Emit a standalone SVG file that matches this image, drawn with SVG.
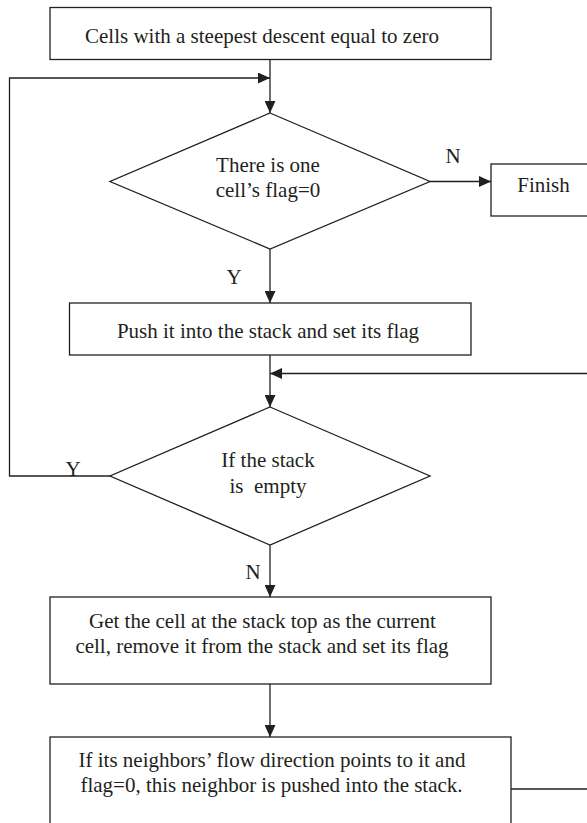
<svg xmlns="http://www.w3.org/2000/svg" width="587" height="823" viewBox="0 0 587 823">
<style>
.n{fill:#fff;stroke:#231f20;stroke-width:1.3}
.c{fill:none;stroke:#231f20;stroke-width:1.3}
text{font-family:"Liberation Serif","Times New Roman",serif;font-size:21px;fill:#231f20;text-anchor:middle}
</style>
<defs>
<marker id="ah" markerWidth="12" markerHeight="11" refX="12" refY="5.5" orient="auto" markerUnits="userSpaceOnUse">
<path d="M0,0 L12,5.5 L0,11 Z" fill="#231f20"/>
</marker>
</defs>
<rect width="587" height="823" fill="#fff"/>
<g id="connectors">
<path class="c" d="M270,59 V113" marker-end="url(#ah)"/>
<path class="c" d="M110,476 H9.5 V78 H270" marker-end="url(#ah)"/>
<path class="c" d="M430,181.5 H491" marker-end="url(#ah)"/>
<path class="c" d="M270,249 V303" marker-end="url(#ah)"/>
<path class="c" d="M270,355 V407" marker-end="url(#ah)"/>
<path class="c" d="M511,789 H587"/>
<path class="c" d="M587,373.5 H270" marker-end="url(#ah)"/>
<path class="c" d="M270,545 V597" marker-end="url(#ah)"/>
<path class="c" d="M270,684 V737" marker-end="url(#ah)"/>
<text x="453" y="163">N</text>
<text x="234" y="284">Y</text>
<text x="73" y="476">Y</text>
<text x="253" y="579">N</text>
</g>
<g id="start">
<rect class="n" x="50" y="7.5" width="441" height="52"/>
<text x="262" y="42.5">Cells with a steepest descent equal to zero</text>
</g>
<g id="check-flag">
<polygon class="n" points="270,113 430,181.5 270,249 110,181.5"/>
<text x="268" y="172">There is one</text>
<text x="268" y="196.5">cell’s flag=0</text>
</g>
<g id="finish">
<rect class="n" x="491" y="164" width="100" height="52"/>
<text x="543.5" y="191.5">Finish</text>
</g>
<g id="push">
<rect class="n" x="69.5" y="303" width="401.5" height="52"/>
<text x="268" y="338">Push it into the stack and set its flag</text>
</g>
<g id="stack-empty">
<polygon class="n" points="270,407 430,476 270,545 110,476"/>
<text x="268" y="467">If the stack</text>
<text x="268" y="493" xml:space="preserve">is  empty</text>
</g>
<g id="get-top">
<rect class="n" x="50" y="597" width="441" height="87"/>
<text x="262.5" y="628">Get the cell at the stack top as the current</text>
<text x="262" y="653">cell, remove it from the stack and set its flag</text>
</g>
<g id="neighbors">
<rect class="n" x="50" y="737" width="461" height="100"/>
<text x="272" y="767">If its neighbors’ flow direction points to it and</text>
<text x="271.5" y="792">flag=0, this neighbor is pushed into the stack.</text>
</g>
</svg>
